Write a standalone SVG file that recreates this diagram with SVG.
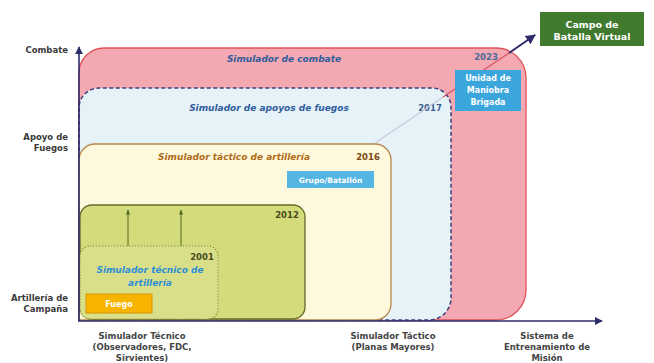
<svg xmlns="http://www.w3.org/2000/svg" width="654" height="363" viewBox="0 0 654 363">
<defs>
<marker id="ahNavy" viewBox="0 0 10 10" refX="9" refY="5" markerWidth="5" markerHeight="5" orient="auto"><path d="M0,0 L10,5 L0,10 Z" fill="#2d2b6b"/></marker>
<marker id="ahGreen" viewBox="0 0 10 10" refX="9" refY="5" markerWidth="5" markerHeight="5" orient="auto"><path d="M0,1 L10,5 L0,9 Z" fill="#4f6b22"/></marker>
<style>
text{font-family:"DejaVu Sans","Liberation Sans",sans-serif;font-weight:bold}
.ax{font-size:8.5px;fill:#3a3a3a;text-anchor:end}
.bt{font-size:8.5px;fill:#444;text-anchor:middle}
.it{font-size:9px;font-style:italic;text-anchor:middle}
.yr{font-size:8.5px;text-anchor:middle}
.wt{fill:#fff;text-anchor:middle}
.axis{stroke:#2d2b6b;stroke-width:1.6;fill:none}
</style>
</defs>
<rect width="654" height="363" fill="#fff"/>

<g id="combate">
<path d="M79,320 V73 A25,25 0 0 1 104,48 H496 A30,30 0 0 1 526,78 V290 A30,30 0 0 1 496,320 Z" fill="#f4a8b2" stroke="#e2525a" stroke-width="1.3"/>
<text class="it" x="284" y="62" fill="#2f5c9c">Simulador de combate</text>
<text class="yr" x="486" y="60" fill="#4a6a9a">2023</text>
</g>

<g id="apoyos">
<path d="M79,320 V108 A20,20 0 0 1 99,88 H432 A19,19 0 0 1 451,107 V298 A22,22 0 0 1 429,320 Z" fill="#e5f2f8" stroke="#3d3f7c" stroke-width="1.5" stroke-dasharray="4,2.5"/>
<text class="it" x="269" y="111" fill="#2f5c9c">Simulador de apoyos de fuegos</text>
<text class="yr" x="430" y="111" fill="#3b5e8c">2017</text>
</g>

<g id="tactico">
<path d="M79,320 V160 A16,16 0 0 1 95,144 H375 A16,16 0 0 1 391,160 V304 A16,16 0 0 1 375,320 Z" fill="#fef8dc" stroke="#b8864a" stroke-width="1.3"/>
<text class="it" x="234" y="160" fill="#b06d18">Simulador táctico de artillería</text>
<text class="yr" x="368" y="160" fill="#7a4a10">2016</text>
</g>

<g id="grupo">
<rect x="287" y="171" width="87" height="17" fill="#55b5e3"/>
<text class="wt" x="330.5" y="182.5" font-size="7.5">Grupo/Batallón</text>
</g>

<g id="s2012">
<rect x="80" y="205" width="225" height="114" rx="12" fill="#d3db7a" stroke="#66682a" stroke-width="1.3"/>
<text class="yr" x="287" y="218" fill="#4a4a20">2012</text>
</g>

<g id="s2001">
<rect x="80" y="246" width="138" height="73" rx="10" fill="#d8df88" stroke="#8a8a3a" stroke-width="1.2" stroke-dasharray="1.2,1.8"/>
<text class="yr" x="202" y="260" fill="#4a4a20">2001</text>
<text class="it" x="150" y="273" fill="#2e8fd6">Simulador técnico de</text>
<text class="it" x="150" y="286" fill="#2e8fd6">artillería</text>
</g>

<g id="fuego">
<rect x="86" y="294" width="66" height="19" fill="#f6b400" stroke="#d99400" stroke-width="1"/>
<text class="wt" x="119" y="306.5" font-size="8">Fuego</text>
</g>

<g id="connectors">
<line x1="375" y1="143" x2="443" y2="97" stroke="#c9c9d8" stroke-width="1.2"/>
<line x1="443" y1="97" x2="509" y2="53" stroke="#d9505e" stroke-width="1.2"/>
<line x1="509" y1="53" x2="535" y2="35" stroke="#2d2b6b" stroke-width="2" marker-end="url(#ahNavy)"/>
<line x1="128" y1="246" x2="128" y2="210" stroke="#4f6b22" stroke-width="1" marker-end="url(#ahGreen)"/>
<line x1="181" y1="246" x2="181" y2="210" stroke="#4f6b22" stroke-width="1" marker-end="url(#ahGreen)"/>
</g>

<g id="unidad">
<rect x="455" y="70" width="66" height="41" fill="#3aa6dc"/>
<text class="wt" x="488" y="81" font-size="8">Unidad de</text>
<text class="wt" x="488" y="93" font-size="8">Maniobra</text>
<text class="wt" x="488" y="105" font-size="8">Brigada</text>
</g>

<g id="campo">
<rect x="540" y="12" width="104" height="34" fill="#3f7a2f"/>
<text class="wt" x="592" y="27.5" font-size="9.5">Campo de</text>
<text class="wt" x="592" y="40" font-size="9.5">Batalla Virtual</text>
</g>

<g id="axes">
<line class="axis" x1="79" y1="321" x2="79" y2="47" marker-end="url(#ahNavy)"/>
<line class="axis" x1="78" y1="321" x2="602" y2="321" marker-end="url(#ahNavy)"/>
</g>

<g id="labels">
<text class="ax" x="68" y="53">Combate</text>
<text class="ax" x="68" y="140">Apoyo de</text>
<text class="ax" x="68" y="151">Fuegos</text>
<text class="ax" x="68" y="301">Artillería de</text>
<text class="ax" x="68" y="312">Campaña</text>
<text class="bt" x="142" y="339">Simulador Técnico</text>
<text class="bt" x="142" y="350">(Observadores, FDC,</text>
<text class="bt" x="142" y="361">Sirvientes)</text>
<text class="bt" x="393" y="339">Simulador Táctico</text>
<text class="bt" x="393" y="350">(Planas Mayores)</text>
<text class="bt" x="547" y="339">Sistema de</text>
<text class="bt" x="547" y="350">Entrenamiento de</text>
<text class="bt" x="547" y="361">Misión</text>
</g>
</svg>
